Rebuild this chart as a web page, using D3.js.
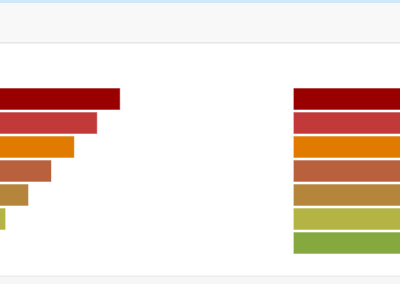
<!DOCTYPE html>
<html lang="en">
<head>
    <meta charset="UTF-8">
    <script src="https://cdnjs.cloudflare.com/ajax/libs/d3/7.8.5/d3.min.js"></script>
    <title>Funnel</title>
    <style>
        body { margin: 0; background: #fff; }
    </style>
</head>
<body>
    <div id="chart"></div>
    <script>
        // stages (no labels are visible in the cropped view)
        var stages = ["s1", "s2", "s3", "s4", "s5", "s6", "s7"];
        var leftValues = [60, 50, 40, 30, 20, 10, 0];
        var rightValues = [60, 50, 40, 30, 20, 10, 0];
        var colors = ["#990000", "#c13939", "#e07b00", "#b9613c", "#b5853b", "#b3b443", "#85a93f"];

        var W = 400, H = 284;

        var svg = d3.select("#chart").append("svg")
            .attr("width", W)
            .attr("height", H);

        // page chrome
        svg.append("rect").attr("x", 0).attr("y", 0).attr("width", W).attr("height", 3).attr("fill", "#cfe9f6");
        svg.append("rect").attr("x", 0).attr("y", 3).attr("width", W).attr("height", 39).attr("fill", "#f8f8f8");
        svg.append("rect").attr("x", 0).attr("y", 42).attr("width", W).attr("height", 1.5).attr("fill", "#e6e6e6");
        svg.append("rect").attr("x", 0).attr("y", 275.5).attr("width", W).attr("height", 1.5).attr("fill", "#ececec");
        svg.append("rect").attr("x", 0).attr("y", 277).attr("width", W).attr("height", 7).attr("fill", "#f6f6f6");

        var y = d3.scaleBand()
            .domain(stages)
            .range([88, 254])
            .paddingInner(2 / 24);

        // left funnel: centred, centre falls outside the view
        var leftCenter = -17.2;
        var wLeft = d3.scaleLinear().domain([0, 60]).range([0, 274.8]);

        svg.append("g").selectAll("rect")
            .data(leftValues)
            .enter().append("rect")
            .attr("x", function(d) { return leftCenter - wLeft(d) / 2; })
            .attr("y", function(d, i) { return y(stages[i]); })
            .attr("width", function(d) { return wLeft(d); })
            .attr("height", y.bandwidth())
            .attr("fill", function(d, i) { return colors[i]; })
            .attr("stroke", "#fff")
            .attr("stroke-opacity", 0.6)
            .attr("stroke-width", 1);

        // right funnel: left aligned, runs past the right edge
        var rightLeft = 293.3;
        var wRight = d3.scaleLinear().domain([0, 60]).range([160, 400]);

        svg.append("g").selectAll("rect")
            .data(rightValues)
            .enter().append("rect")
            .attr("x", rightLeft)
            .attr("y", function(d, i) { return y(stages[i]); })
            .attr("width", function(d) { return wRight(d); })
            .attr("height", y.bandwidth())
            .attr("fill", function(d, i) { return colors[i]; })
            .attr("stroke", "#fff")
            .attr("stroke-opacity", 0.6)
            .attr("stroke-width", 1);
    </script>
</body>
</html>
